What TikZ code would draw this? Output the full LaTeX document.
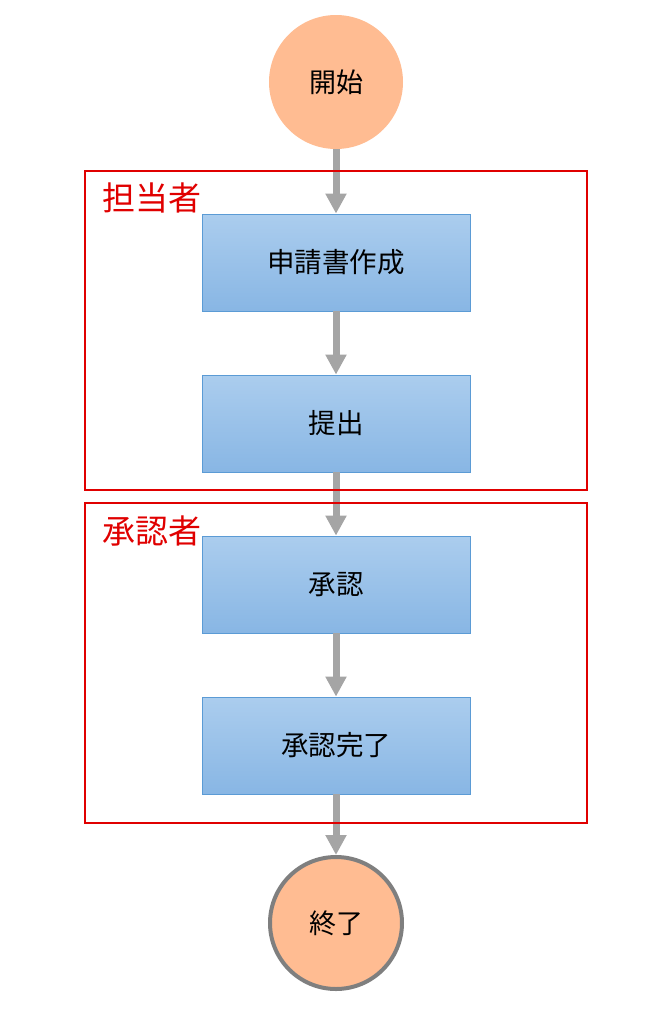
\documentclass[tikz,border=0pt]{standalone}
\usepackage{fontspec}
\newfontfamily\cjk{Noto Sans CJK JP}
\usetikzlibrary{arrows.meta}
\definecolor{peach}{HTML}{FFBC92}
\definecolor{boxtop}{HTML}{ABCDEE}
\definecolor{boxbot}{HTML}{88B6E4}
\definecolor{boxline}{HTML}{5B9BD5}
\definecolor{arrowgray}{HTML}{A5A5A5}
\definecolor{ringgray}{HTML}{7F7F7F}
\definecolor{framered}{HTML}{E00000}
\tikzset{
  x=1pt, y=-1pt,
  terminal/.style={circle, fill=peach, minimum size=134pt, inner sep=0pt, font=\cjk\fontsize{27}{32}\selectfont},
  endterminal/.style={terminal, draw=ringgray, line width=4pt, minimum size=132pt},
  procbox/.style={draw=boxline, line width=0.8pt, top color=boxtop, bottom color=boxbot, minimum width=268pt, minimum height=97pt, inner sep=0pt, font=\cjk\fontsize{27.5}{32}\selectfont},
  flow/.style={draw=arrowgray, line width=7pt, -{Triangle[width=20pt,length=20pt]}},
  lane/.style={draw=framered, line width=1.6pt},
  lanelabel/.style={text=framered, font=\cjk\fontsize{33}{38}\selectfont, anchor=west, inner sep=0pt}
}
\begin{document}
\begin{tikzpicture}
\useasboundingbox (0,0) rectangle (668,1026);
\node[terminal] (start) at (336,82) {開始};
\node[procbox] (b1) at (336,262.5) {申請書作成};
\node[procbox] (b2) at (336,423.5) {提出};
\node[procbox] (b3) at (336,584.5) {承認};
\node[procbox] (b4) at (336,745.5) {承認完了};
\node[endterminal] (end) at (336,923) {終了};
\draw[flow] (start) -- (b1);
\draw[flow] (b1) -- (b2);
\draw[flow] (b2) -- (b3);
\draw[flow] (b3) -- (b4);
\draw[flow] (b4) -- (end);
\draw[lane] (85,171) rectangle (587,490);
\draw[lane] (85,503) rectangle (587,823);
\node[lanelabel] (l1) at (102,198) {担当者};
\node[lanelabel] (l2) at (102,531) {承認者};
\end{tikzpicture}
\end{document}
